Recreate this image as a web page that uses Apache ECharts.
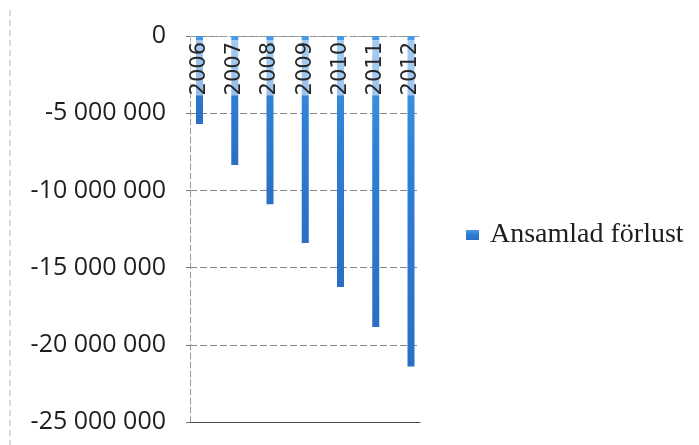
<!DOCTYPE html>
<html>
<head>
<meta charset="utf-8">
<script src="https://cdn.jsdelivr.net/npm/echarts@6/dist/echarts.min.js"></script>
<style>
  html, body { margin: 0; padding: 0; background: #ffffff; }
  #chart { width: 699px; height: 445px; }
</style>
</head>
<body>
<div id="chart"></div>
<script>
// Accumulated loss per year (SEK)
const years = ['2006', '2007', '2008', '2009', '2010', '2011', '2012'];
const accumulatedLoss = [-5700000, -8350000, -10900000, -13400000, -16250000, -18850000, -21400000];
const seriesName = 'Ansamlad förlust';

// Value axis range and step
const yMin = -25000000;
const yMax = 0;
const yStep = 5000000;

function formatAmount(v) {
  if (v === 0) return '0';
  const s = String(Math.abs(v)).replace(/\B(?=(\d{3})+(?!\d))/g, ' ');
  return (v < 0 ? '-' : '') + s;
}

const chart = echarts.init(document.getElementById('chart'));

const barFill = new echarts.graphic.LinearGradient(0, 0, 0, 1, [
  { offset: 0, color: '#4a9ae6' },
  { offset: 0.4, color: '#2e7fd6' },
  { offset: 1, color: '#2a6fc4' }
]);

chart.setOption({
  backgroundColor: '#ffffff',
  animation: false,
  graphic: [
    {
      type: 'line',
      shape: { x1: 10, y1: 10, x2: 10, y2: 445 },
      style: { stroke: '#b5b5b5', lineWidth: 1, lineDash: [6, 4] }
    }
  ],
  grid: [
    { left: 190, width: 230, top: 36, height: 386, outerBoundsMode: 'none' },
    { left: 199.5, width: 211.5, top: 36, height: 386, outerBoundsMode: 'none' }
  ],
  xAxis: [
    {
      // frame line along the bottom of the plot
      type: 'value', gridIndex: 0, min: 0, max: 1, position: 'bottom',
      axisLine: { show: true, onZero: false, lineStyle: { color: '#4a4a4a', width: 1.2 } },
      axisTick: { show: false }, axisLabel: { show: false }, splitLine: { show: false }
    },
    {
      // zero line along the top of the plot
      type: 'value', gridIndex: 0, min: 0, max: 1, position: 'top',
      axisLine: { show: true, onZero: false, lineStyle: { color: '#9a9a9a', width: 1, type: [5, 3] } },
      axisTick: { show: false }, axisLabel: { show: false }, splitLine: { show: false }
    },
    {
      // year labels hang from the zero line, inside the plot
      type: 'category', gridIndex: 1, data: years, boundaryGap: false,
      position: 'top',
      axisLine: { show: false, onZero: false },
      axisTick: { show: false },
      splitLine: { show: false },
      axisLabel: {
        inside: true,
        rotate: -90,
        margin: 4,
        fontFamily: 'DejaVu Sans',
        fontSize: 21,
        color: '#262626',
        backgroundColor: 'rgba(255,255,255,0.5)',
        padding: [0, 2, 0, 0]
      },
      z: 5
    }
  ],
  yAxis: [
    {
      type: 'value', gridIndex: 0, min: yMin, max: yMax, interval: yStep,
      axisLine: { show: true, lineStyle: { color: '#9a9a9a', width: 1, type: [6, 3] } },
      axisTick: { show: true, length: 4, lineStyle: { color: '#777' } },
      splitLine: { show: true, showMinLine: false, lineStyle: { color: '#858585', width: 1, type: [7, 3] } },
      axisLabel: {
        margin: 24,
        fontFamily: 'Open Sans',
        fontSize: 25,
        color: '#1e1e1e',
        formatter: formatAmount
      }
    },
    {
      type: 'value', gridIndex: 1, min: yMin, max: yMax, interval: yStep,
      axisLine: { show: false }, axisTick: { show: false },
      axisLabel: { show: false }, splitLine: { show: false }
    }
  ],
  legend: {
    data: [seriesName],
    left: 461,
    top: 215,
    icon: 'rect',
    itemWidth: 13,
    itemHeight: 10,
    textStyle: {
      fontFamily: 'Liberation Serif',
      fontSize: 28,
      color: '#1e1e1e',
      lineHeight: 30,
      padding: [0, 0, 0, 6]
    }
  },
  series: [
    {
      name: seriesName,
      type: 'bar',
      xAxisIndex: 2,
      yAxisIndex: 1,
      data: accumulatedLoss,
      barWidth: 7,
      itemStyle: { color: barFill },
      z: 1
    }
  ]
});
</script>
</body>
</html>
